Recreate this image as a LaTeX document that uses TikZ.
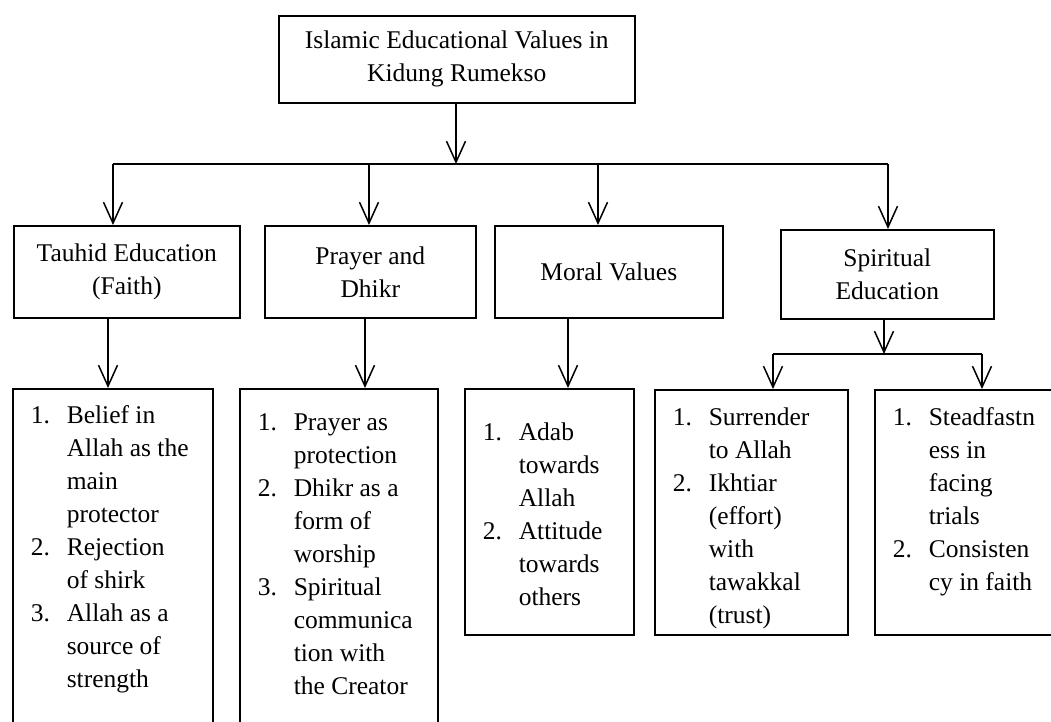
\documentclass[tikz,border=0pt]{standalone}
\usepackage{fontspec}
\setmainfont{Liberation Serif}
\usetikzlibrary{arrows.meta, positioning}
% numbered list in a fixed box: width, height, top pad, rows
\newcommand{\numlist}[4]{\parbox[t][#2][t]{#1}{\vspace*{#3}\begin{tabular}[t]{@{\hspace{18pt}}p{36pt}@{}l@{}}#4\end{tabular}}}

\begin{document}
\begin{tikzpicture}[x=1pt, y=-1pt,
  every node/.style={font=\fontsize{25.5}{33}\selectfont},
  headbox/.style={draw, line width=1.6pt, align=center, inner sep=0pt, anchor=north west},
  listbox/.style={draw, line width=1.6pt, inner sep=0pt, anchor=north west},
  arr/.style={-{Straight Barb[length=21pt, width=19pt]}, line width=1.5pt},
  bar/.style={line width=1.6pt},
]
  \useasboundingbox (0,0) rectangle (1051,722);
  \clip (0,0) rectangle (1051,722);

  \node[headbox, minimum width=356pt, minimum height=87pt] (values) at (278,15) {Islamic Educational Values in\\Kidung Rumekso};

  % second level
  \node[headbox, minimum width=226pt, minimum height=92pt] (tauhid) at (13,225) {Tauhid Education\\(Faith)};
  \node[headbox, minimum width=211pt, minimum height=92pt] (prayer) at (264,225) {Prayer and\\Dhikr};
  \node[headbox, minimum width=228pt, minimum height=92pt] (moral) at (494,225) {Moral Values};
  \node[headbox, minimum width=213pt, minimum height=89pt] (spirit) at (780,229) {Spiritual\\Education};

  % lists
  \node[listbox] (tauhidlist) at (12,388) {\numlist{200pt}{350pt}{12pt}{%
    1. & Belief in\\ & Allah as the\\ & main\\ & protector\\
    2. & Rejection\\ & of shirk\\
    3. & Allah as a\\ & source of\\ & strength}};
  \node[listbox] (prayerlist) at (239,388) {\numlist{198pt}{350pt}{19pt}{%
    1. & Prayer as\\ & protection\\
    2. & Dhikr as a\\ & form of\\ & worship\\
    3. & Spiritual\\ & communica\\ & tion with\\ & the Creator}};
  \node[listbox] (morallist) at (464,388) {\numlist{169pt}{246pt}{29pt}{%
    1. & Adab\\ & towards\\ & Allah\\
    2. & Attitude\\ & towards\\ & others}};
  \node[listbox] (surrlist) at (654,389) {\numlist{193pt}{245pt}{13pt}{%
    1. & Surrender\\ & to Allah\\
    2. & Ikhtiar\\ & (effort)\\ & with\\ & tawakkal\\ & (trust)}};
  \node[listbox] (steadlist) at (874,389) {\numlist{200pt}{245pt}{13pt}{%
    1. & Steadfastn\\ & ess in\\ & facing\\ & trials\\
    2. & Consisten\\ & cy in faith}};

  % main branch
  \coordinate (hub) at (456,164);
  \coordinate (b1) at (113,164);
  \coordinate (b4) at (888,164);
  \draw[arr] (values.south -| hub) -- (hub);
  \draw[bar] (b1) -- (b4);
  \foreach \x/\to in {113/tauhid, 369/prayer, 598/moral, 888/spirit}
    \draw[arr] (\x,0 |- b1) -- (\to.north -| \x,0);

  \foreach \x/\from/\to in {108/tauhid/tauhidlist, 365/prayer/prayerlist, 568/moral/morallist}
    \draw[arr] (\from.south -| \x,0) -- (\to.north -| \x,0);

  % spiritual split
  \coordinate (shub) at (884,354);
  \coordinate (s1) at (773,354);
  \coordinate (s2) at (982,354);
  \draw[arr] (spirit.south -| shub) -- (shub);
  \draw[bar] (s1) -- (s2);
  \draw[arr] (s1) -- (surrlist.north -| s1);
  \draw[arr] (s2) -- (steadlist.north -| s2);
\end{tikzpicture}
\end{document}
